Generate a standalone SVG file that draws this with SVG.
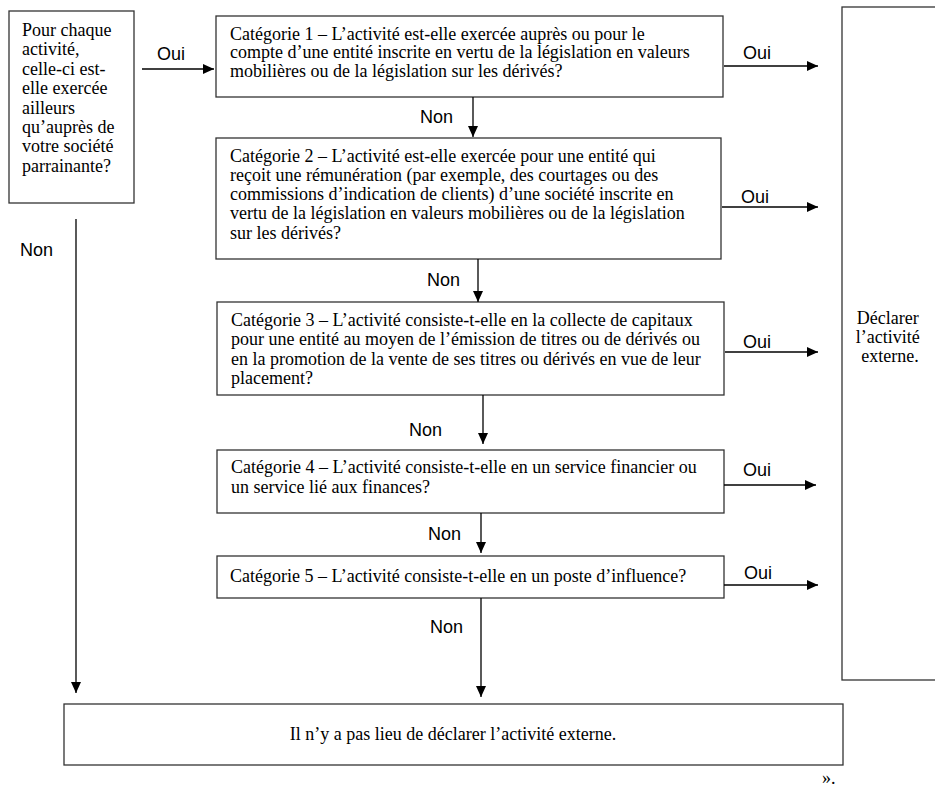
<svg xmlns="http://www.w3.org/2000/svg" width="935" height="787" viewBox="0 0 935 787">
<style>
.box{fill:#fff;stroke:#333;stroke-width:1.3}
.t{font-family:"Liberation Serif","Times New Roman",serif;font-size:18px;fill:#000}
.lbl{font-family:"Liberation Sans",Arial,sans-serif;font-size:18px;fill:#000}
.c{stroke:#000;stroke-width:1.3;fill:none;marker-end:url(#ah)}
</style>
<defs>
<marker id="ah" markerUnits="userSpaceOnUse" markerWidth="12" markerHeight="10" refX="11" refY="5" orient="auto">
<path d="M0,0 L11,5 L0,10 Z" fill="#000"/>
</marker>
</defs>
<rect width="935" height="787" fill="#fff"/>

<g id="start">
<rect class="box" x="9" y="11" width="125" height="192"/>
<text class="t">
<tspan x="22" y="36">Pour chaque</tspan>
<tspan x="22" y="55.4">activité,</tspan>
<tspan x="22" y="74.8">celle-ci est-</tspan>
<tspan x="22" y="94.2">elle exercée</tspan>
<tspan x="22" y="113.6">ailleurs</tspan>
<tspan x="22" y="133">qu’auprès de</tspan>
<tspan x="22" y="152.4">votre société</tspan>
<tspan x="22" y="171.8">parrainante?</tspan>
</text>
</g>

<g id="cat1">
<rect class="box" x="216" y="16" width="507" height="81"/>
<text class="t">
<tspan x="230" y="39.5">Catégorie 1 – L’activité est-elle exercée auprès ou pour le</tspan>
<tspan x="230" y="58">compte d’une entité inscrite en vertu de la législation en valeurs</tspan>
<tspan x="230" y="77">mobilières ou de la législation sur les dérivés?</tspan>
</text>
</g>

<g id="cat2">
<rect class="box" x="216" y="138" width="505" height="121"/>
<text class="t">
<tspan x="230" y="162">Catégorie 2 – L’activité est-elle exercée pour une entité qui</tspan>
<tspan x="230" y="181">reçoit une rémunération (par exemple, des courtages ou des</tspan>
<tspan x="230" y="200">commissions d’indication de clients) d’une société inscrite en</tspan>
<tspan x="230" y="219">vertu de la législation en valeurs mobilières ou de la législation</tspan>
<tspan x="230" y="238.5">sur les dérivés?</tspan>
</text>
</g>

<g id="cat3">
<rect class="box" x="217" y="302" width="507" height="93"/>
<text class="t">
<tspan x="231" y="326">Catégorie 3 – L’activité consiste-t-elle en la collecte de capitaux</tspan>
<tspan x="231" y="345.3">pour une entité au moyen de l’émission de titres ou de dérivés ou</tspan>
<tspan x="231" y="364.6">en la promotion de la vente de ses titres ou dérivés en vue de leur</tspan>
<tspan x="231" y="384">placement?</tspan>
</text>
</g>

<g id="cat4">
<rect class="box" x="217" y="450" width="507" height="63"/>
<text class="t">
<tspan x="231" y="473">Catégorie 4 – L’activité consiste-t-elle en un service financier ou</tspan>
<tspan x="231" y="493">un service lié aux finances?</tspan>
</text>
</g>

<g id="cat5">
<rect class="box" x="217" y="556" width="507" height="42"/>
<text class="t" x="230" y="582">Catégorie 5 – L’activité consiste-t-elle en un poste d’influence?</text>
</g>

<g id="declarer">
<rect class="box" x="842" y="7" width="100" height="673"/>
<text class="t" text-anchor="middle">
<tspan x="890" y="324">Déclarer</tspan>
<tspan x="890" y="343">l’activité</tspan>
<tspan x="890" y="362">externe.</tspan>
</text>
</g>

<g id="no-declare">
<rect class="box" x="64" y="704" width="779" height="61"/>
<text class="t" x="453" y="740" text-anchor="middle">Il n’y a pas lieu de déclarer l’activité externe.</text>
</g>

<g id="connectors">
<line class="c" x1="142" y1="69" x2="214" y2="69"/>
<text class="lbl" x="157" y="60">Oui</text>
<line class="c" x1="76" y1="219" x2="76" y2="693"/>
<text class="lbl" x="20" y="256">Non</text>

<line class="c" x1="724" y1="66" x2="818" y2="66"/>
<text class="lbl" x="743" y="59">Oui</text>
<line class="c" x1="722" y1="207" x2="818" y2="207"/>
<text class="lbl" x="741" y="203">Oui</text>
<line class="c" x1="725" y1="352" x2="818" y2="352"/>
<text class="lbl" x="743" y="348">Oui</text>
<line class="c" x1="724" y1="485" x2="816" y2="485"/>
<text class="lbl" x="743" y="476">Oui</text>
<line class="c" x1="724" y1="585" x2="818" y2="585"/>
<text class="lbl" x="744" y="579">Oui</text>

<line class="c" x1="473" y1="97" x2="473" y2="137"/>
<text class="lbl" x="420" y="123">Non</text>
<line class="c" x1="478" y1="259" x2="478" y2="302"/>
<text class="lbl" x="427" y="286">Non</text>
<line class="c" x1="483" y1="395" x2="483" y2="444"/>
<text class="lbl" x="409" y="436">Non</text>
<line class="c" x1="481" y1="513" x2="481" y2="553"/>
<text class="lbl" x="428" y="540">Non</text>
<line class="c" x1="481" y1="598" x2="481" y2="697"/>
<text class="lbl" x="430" y="633">Non</text>
</g>

<text class="t" x="822" y="784">».</text>
</svg>
